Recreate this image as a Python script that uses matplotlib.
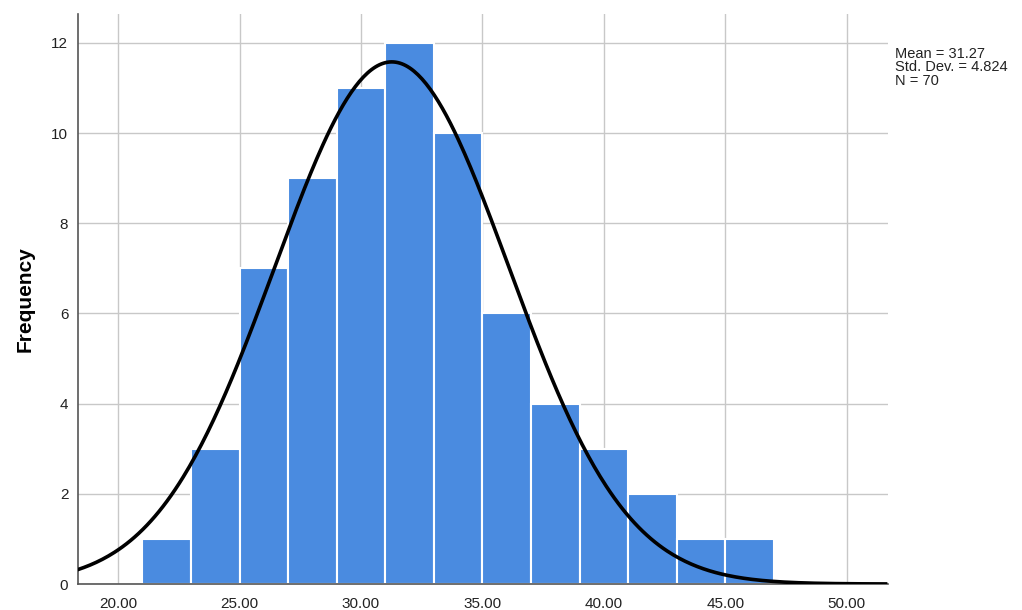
import numpy as np
import matplotlib.pyplot as plt

plt.rcParams['font.family'] = ['Liberation Sans', 'DejaVu Sans']

# histogram data
bin_edges = [21, 23, 25, 27, 29, 31, 33, 35, 37, 39, 41, 43, 45, 47]
counts = [1, 3, 7, 9, 11, 12, 10, 6, 4, 3, 2, 1, 1]
mean = 31.27
std = 4.824
n = 70
bin_width = 2

xticks = [20, 25, 30, 35, 40, 45, 50]
yticks = [0, 2, 4, 6, 8, 10, 12]

fig = plt.figure(figsize=(10.22, 6.10), dpi=100)
ax = fig.add_axes([78 / 1022, 26 / 610, 810 / 1022, 570 / 610])

ax.bar(bin_edges[:-1], counts, width=bin_width, align='edge',
       color='#4a8be0', edgecolor='white', linewidth=1.5, zorder=2)

# normal curve scaled to counts
xs = np.linspace(18.35, 51.6, 400)
ys = n * bin_width / (std * np.sqrt(2 * np.pi)) * np.exp(-0.5 * ((xs - mean) / std) ** 2)
ax.plot(xs, ys, color='black', linewidth=2.6, zorder=3)

ax.set_xlim(18.35, 51.7)
ax.set_ylim(0, 12.64)
ax.set_xticks(xticks)
ax.set_xticklabels([f'{t:.2f}' for t in xticks])
ax.set_yticks(yticks)
ax.tick_params(length=0, labelsize=11, colors='#222222')
ax.tick_params(axis='x', pad=9)
ax.tick_params(axis='y', pad=7)
ax.grid(True, color='#c8c8c8', linewidth=1.0, zorder=0)
ax.set_axisbelow(True)

for s in ['top', 'right']:
    ax.spines[s].set_visible(False)
for s in ['left', 'bottom']:
    ax.spines[s].set_color('#555555')
    ax.spines[s].set_linewidth(1.2)

ax.set_ylabel('Frequency', fontsize=15, fontweight='bold', labelpad=12)

fig.text(895 / 1022, 1 - 47 / 610,
         f'Mean = {mean:.2f}\nStd. Dev. = {std:.3f}\nN = {n}',
         fontsize=10.5, va='top', ha='left', linespacing=0.95, color='#222222')

fig.savefig('out.png', dpi=100)
